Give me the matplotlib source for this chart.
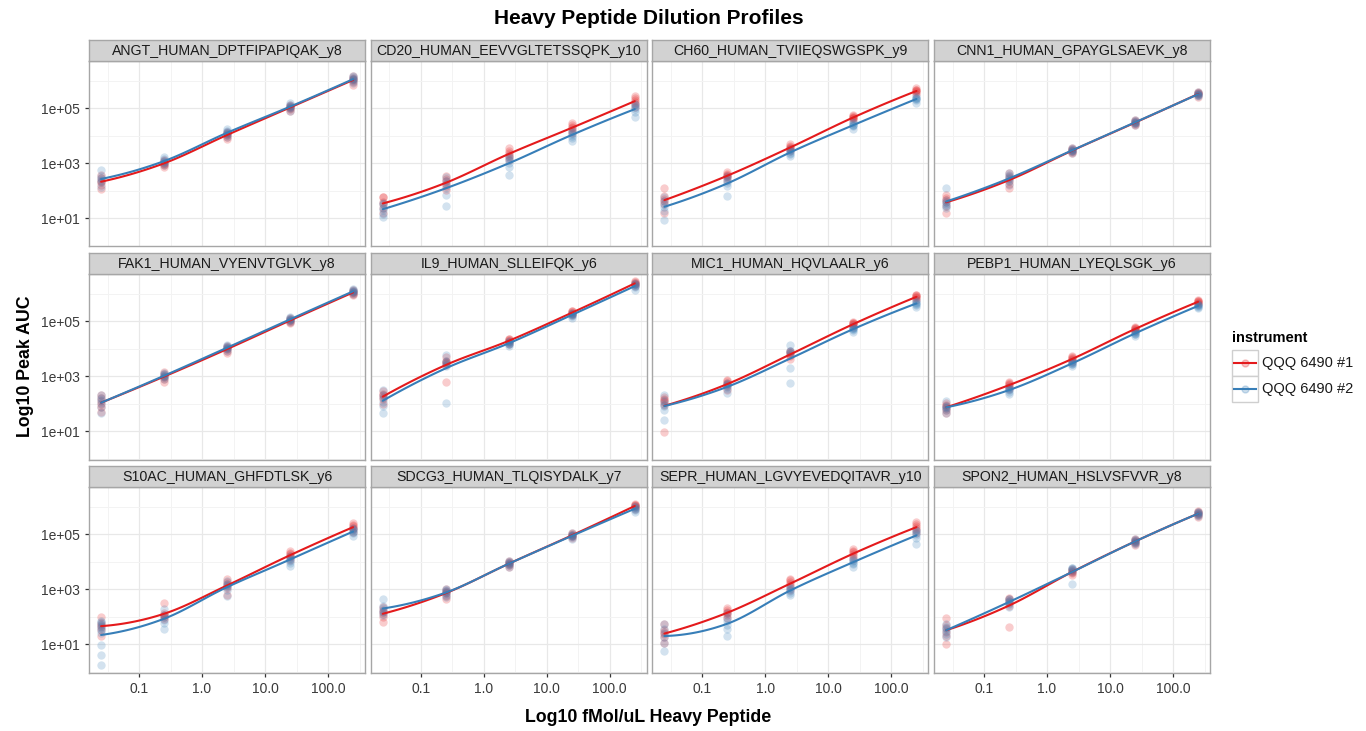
import numpy as np
import matplotlib
matplotlib.use("Agg")
import matplotlib.pyplot as plt
from matplotlib.patches import Rectangle
from matplotlib.lines import Line2D

plt.rcParams['font.family'] = ['Liberation Sans', 'DejaVu Sans']

# ---------------- data ----------------
concentration = [0.025, 0.25, 2.5, 25, 250]          # fMol/uL heavy peptide
instruments = ["QQQ 6490 #1", "QQQ 6490 #2"]
colors = ["#E41A1C", "#377EB8"]

panel_titles = [
    "ANGT_HUMAN_DPTFIPAPIQAK_y8", "CD20_HUMAN_EEVVGLTETSSQPK_y10",
    "CH60_HUMAN_TVIIEQSWGSPK_y9", "CNN1_HUMAN_GPAYGLSAEVK_y8",
    "FAK1_HUMAN_VYENVTGLVK_y8", "IL9_HUMAN_SLLEIFQK_y6",
    "MIC1_HUMAN_HQVLAALR_y6", "PEBP1_HUMAN_LYEQLSGK_y6",
    "S10AC_HUMAN_GHFDTLSK_y6", "SDCG3_HUMAN_TLQISYDALK_y7",
    "SEPR_HUMAN_LGVYEVEDQITAVR_y10", "SPON2_HUMAN_HSLVSFVVR_y8",
]

# log10(Peak AUC) replicates, one inner list per concentration
ANGT_1 = [[2.05, 2.20, 2.30, 2.36, 2.44, 2.57], [2.85, 2.93, 2.98, 3.01, 3.06, 3.11],
          [3.88, 3.96, 4.01, 4.05, 4.08, 4.14], [4.90, 4.97, 5.01, 5.04, 5.08, 5.12],
          [5.84, 5.95, 6.01, 6.05, 6.10, 6.17]]
ANGT_2 = [[2.12, 2.30, 2.38, 2.45, 2.52, 2.75], [2.93, 3.00, 3.05, 3.09, 3.14, 3.21],
          [3.96, 4.03, 4.08, 4.12, 4.17, 4.24], [4.90, 4.99, 5.04, 5.08, 5.12, 5.17],
          [5.92, 5.99, 6.04, 6.07, 6.11, 6.17]]
CD20_1 = [[1.20, 1.38, 1.50, 1.58, 1.76, 1.76], [2.02, 2.15, 2.25, 2.33, 2.41, 2.52],
          [3.10, 3.22, 3.30, 3.38, 3.45, 3.53], [4.08, 4.18, 4.26, 4.32, 4.38, 4.46],
          [5.02, 5.14, 5.22, 5.30, 5.37, 5.45]]
CD20_2 = [[1.05, 1.15, 1.28, 1.38, 1.50, 1.56], [1.45, 1.85, 2.10, 2.25, 2.35, 2.48],
          [2.55, 2.85, 3.00, 3.10, 3.18, 3.26], [3.80, 3.92, 4.00, 4.07, 4.14, 4.19],
          [4.68, 4.85, 4.95, 5.02, 5.10, 5.16]]
CH60_1 = [[1.19, 1.50, 1.62, 1.70, 1.79, 2.10], [2.40, 2.48, 2.52, 2.56, 2.60, 2.68],
          [3.45, 3.52, 3.56, 3.59, 3.62, 3.68], [4.55, 4.62, 4.65, 4.68, 4.71, 4.75],
          [5.50, 5.58, 5.61, 5.64, 5.67, 5.72]]
CH60_2 = [[0.92, 1.25, 1.40, 1.52, 1.62, 1.75], [1.80, 2.15, 2.28, 2.36, 2.45, 2.52],
          [3.25, 3.33, 3.38, 3.42, 3.46, 3.50], [4.25, 4.33, 4.37, 4.40, 4.44, 4.49],
          [5.20, 5.28, 5.32, 5.35, 5.38, 5.45]]
CNN1_1 = [[1.19, 1.45, 1.58, 1.65, 1.72, 1.83], [2.08, 2.25, 2.36, 2.44, 2.52, 2.63],
          [3.35, 3.41, 3.44, 3.47, 3.50, 3.53], [4.37, 4.43, 4.46, 4.49, 4.52, 4.55],
          [5.41, 5.47, 5.50, 5.53, 5.56, 5.59]]
CNN1_2 = [[1.35, 1.45, 1.50, 1.58, 1.64, 2.08], [2.20, 2.35, 2.43, 2.49, 2.55, 2.62],
          [3.37, 3.42, 3.45, 3.48, 3.51, 3.53], [4.39, 4.44, 4.47, 4.50, 4.53, 4.55],
          [5.42, 5.46, 5.49, 5.52, 5.54, 5.57]]
FAK1_1 = [[1.70, 1.88, 2.00, 2.10, 2.20, 2.30], [2.80, 2.90, 2.96, 3.01, 3.06, 3.15],
          [3.82, 3.92, 3.97, 4.01, 4.06, 4.10], [4.92, 4.98, 5.01, 5.04, 5.07, 5.10],
          [5.93, 6.00, 6.03, 6.06, 6.09, 6.13]]
FAK1_2 = [[1.64, 1.88, 2.02, 2.12, 2.20, 2.32], [2.88, 2.95, 3.00, 3.04, 3.08, 3.11],
          [3.92, 3.98, 4.02, 4.05, 4.09, 4.12], [4.96, 5.02, 5.05, 5.08, 5.11, 5.14],
          [5.98, 6.04, 6.07, 6.10, 6.13, 6.16]]
IL9_1 = [[2.00, 2.15, 2.24, 2.30, 2.36, 2.45], [2.77, 3.40, 3.48, 3.52, 3.55, 3.68],
         [4.18, 4.24, 4.27, 4.30, 4.33, 4.36], [5.21, 5.26, 5.29, 5.32, 5.35, 5.37],
         [6.28, 6.33, 6.36, 6.39, 6.42, 6.44]]
IL9_2 = [[1.65, 1.90, 2.05, 2.20, 2.30, 2.50], [2.03, 3.38, 3.45, 3.50, 3.55, 3.77],
         [4.08, 4.15, 4.18, 4.21, 4.24, 4.28], [5.12, 5.18, 5.21, 5.24, 5.27, 5.30],
         [6.12, 6.22, 6.27, 6.30, 6.34, 6.37]]
MIC1_1 = [[0.95, 1.95, 2.05, 2.12, 2.18, 2.25], [2.50, 2.62, 2.70, 2.76, 2.82, 2.86],
          [3.62, 3.72, 3.78, 3.83, 3.88, 3.91], [4.78, 4.85, 4.89, 4.92, 4.94, 4.96],
          [5.76, 5.84, 5.88, 5.91, 5.94, 5.95]]
MIC1_2 = [[1.40, 1.75, 1.90, 2.00, 2.10, 2.31], [2.40, 2.52, 2.60, 2.66, 2.72, 2.76],
          [2.76, 3.28, 3.85, 3.90, 3.92, 4.13], [4.60, 4.66, 4.70, 4.73, 4.76, 4.81],
          [5.52, 5.59, 5.63, 5.66, 5.69, 5.75]]
PEBP1_1 = [[1.64, 1.78, 1.85, 1.90, 1.96, 2.03], [2.52, 2.60, 2.66, 2.70, 2.74, 2.80],
           [3.50, 3.57, 3.61, 3.65, 3.68, 3.71], [4.62, 4.67, 4.70, 4.73, 4.76, 4.78],
           [5.62, 5.67, 5.70, 5.72, 5.74, 5.75]]
PEBP1_2 = [[1.66, 1.78, 1.84, 1.88, 1.92, 2.08], [2.36, 2.43, 2.48, 2.52, 2.55, 2.60],
           [3.36, 3.42, 3.45, 3.48, 3.51, 3.54], [4.45, 4.51, 4.54, 4.57, 4.60, 4.63],
           [5.46, 5.51, 5.54, 5.57, 5.60, 5.62]]
S10AC_1 = [[1.30, 1.52, 1.62, 1.70, 1.78, 1.98], [1.90, 1.98, 2.05, 2.06, 2.12, 2.49],
           [2.80, 3.02, 3.12, 3.20, 3.26, 3.38], [4.05, 4.15, 4.21, 4.27, 4.32, 4.38],
           [5.08, 5.17, 5.23, 5.28, 5.33, 5.41]]
S10AC_2 = [[0.25, 0.59, 0.95, 1.40, 1.50, 1.58, 1.65, 1.72, 1.80, 1.85],
           [1.56, 1.75, 1.88, 1.98, 2.06, 2.29],
           [2.73, 2.98, 3.07, 3.14, 3.20, 3.30], [3.85, 3.96, 4.02, 4.08, 4.13, 4.20],
           [4.92, 5.03, 5.09, 5.14, 5.19, 5.23]]
SDCG3_1 = [[1.80, 1.98, 2.08, 2.16, 2.22, 2.36], [2.65, 2.76, 2.84, 2.90, 2.94, 3.01],
           [3.80, 3.87, 3.91, 3.95, 3.98, 4.01], [4.84, 4.91, 4.94, 4.97, 5.00, 5.04],
           [5.92, 5.98, 6.01, 6.04, 6.07, 6.10]]
SDCG3_2 = [[2.05, 2.15, 2.20, 2.30, 2.39, 2.65], [2.70, 2.80, 2.86, 2.91, 2.96, 2.99],
           [3.80, 3.87, 3.91, 3.95, 3.98, 4.01], [4.82, 4.89, 4.92, 4.95, 4.98, 5.02],
           [5.80, 5.87, 5.91, 5.95, 5.98, 6.01]]
SEPR_1 = [[1.05, 1.25, 1.35, 1.42, 1.50, 1.71], [1.95, 2.05, 2.12, 2.18, 2.24, 2.30],
          [2.95, 3.10, 3.18, 3.26, 3.33, 3.38], [4.10, 4.20, 4.27, 4.33, 4.39, 4.45],
          [5.02, 5.15, 5.22, 5.30, 5.36, 5.45]]
SEPR_2 = [[0.75, 1.05, 1.25, 1.40, 1.55, 1.74], [1.28, 1.55, 1.70, 1.82, 1.95, 2.14],
          [2.78, 2.87, 2.93, 2.99, 3.04, 3.09], [3.80, 3.90, 3.96, 4.02, 4.07, 4.13],
          [4.62, 4.85, 4.95, 5.02, 5.10, 5.16]]
SPON2_1 = [[1.00, 1.30, 1.45, 1.60, 1.70, 1.95], [1.62, 2.40, 2.50, 2.58, 2.62, 2.68],
           [3.50, 3.57, 3.61, 3.65, 3.68, 3.71], [4.60, 4.67, 4.72, 4.76, 4.80, 4.83],
           [5.62, 5.68, 5.73, 5.77, 5.80, 5.84]]
SPON2_2 = [[1.25, 1.38, 1.48, 1.56, 1.62, 1.71], [2.35, 2.45, 2.52, 2.58, 2.63, 2.65],
           [3.20, 3.62, 3.68, 3.72, 3.75, 3.75], [4.62, 4.68, 4.72, 4.76, 4.79, 4.81],
           [5.64, 5.70, 5.74, 5.77, 5.79, 5.80]]

panel_data = [
    (ANGT_1, ANGT_2), (CD20_1, CD20_2), (CH60_1, CH60_2), (CNN1_1, CNN1_2),
    (FAK1_1, FAK1_2), (IL9_1, IL9_2), (MIC1_1, MIC1_2), (PEBP1_1, PEBP1_2),
    (S10AC_1, S10AC_2), (SDCG3_1, SDCG3_2), (SEPR_1, SEPR_2), (SPON2_1, SPON2_2),
]


# ---------------- loess smoother (geom_smooth-like, log-log space) ----------------
def local_fit(x, y, x0, span=0.75):
    n = len(x)
    q = int(np.floor(n * span))
    d = np.abs(x - x0)
    h = np.sort(d)[q - 1] * 1.0001
    w = np.clip(1 - (d / h) ** 3, 0, None) ** 3
    X = np.column_stack([np.ones(n), x - x0, (x - x0) ** 2])
    sw = np.sqrt(w)
    beta = np.linalg.lstsq(X * sw[:, None], y * sw, rcond=None)[0]
    return beta[0], beta[1]


def loess_curve(x, y, npts=120, span=0.75):
    """Local quadratic fits at the vertices (distinct x), joined by cubic
    Hermite interpolation, like R's loess(surface = 'interpolate')."""
    x = np.asarray(x, float)
    y = np.asarray(y, float)
    vx = np.unique(x)
    fits = [local_fit(x, y, v, span) for v in vx]
    vy = np.array([f[0] for f in fits])
    vd = np.array([f[1] for f in fits])
    xe = np.linspace(vx[0], vx[-1], npts)
    ye = np.empty_like(xe)
    for k, xx in enumerate(xe):
        j = min(np.searchsorted(vx, xx, side='right') - 1, len(vx) - 2)
        j = max(j, 0)
        hseg = vx[j + 1] - vx[j]
        t = (xx - vx[j]) / hseg
        h00 = 2 * t ** 3 - 3 * t ** 2 + 1
        h10 = t ** 3 - 2 * t ** 2 + t
        h01 = -2 * t ** 3 + 3 * t ** 2
        h11 = t ** 3 - t ** 2
        ye[k] = h00 * vy[j] + h10 * hseg * vd[j] + h01 * vy[j + 1] + h11 * hseg * vd[j + 1]
    return xe, ye


# ---------------- layout ----------------
W, H = 1366, 731
fig = plt.figure(figsize=(W / 100, H / 100), dpi=100)


def fbox(x0, y0, x1, y1):
    return [x0 / W, 1 - y1 / H, (x1 - x0) / W, (y1 - y0) / H]


BORDER = "#A6A6A6"
xlim = (10 ** -1.794, 10 ** 2.587)
ylim = (10 ** -0.036, 10 ** 6.71)

for i, title in enumerate(panel_titles):
    r, c = divmod(i, 4)
    left = 89 + 281.67 * c
    right = left + 276
    strip_top = 39.5 + 213 * r
    top = 61 + 213 * r
    bottom = 246.5 + 213 * r

    ax = fig.add_axes(fbox(left, top, right, bottom))
    ax.set_xscale('log')
    ax.set_yscale('log')
    ax.set_xlim(*xlim)
    ax.set_ylim(*ylim)
    ax.set_facecolor("white")

    ax.set_xticks([0.1, 1, 10, 100])
    ax.set_xticklabels(["0.1", "1.0", "10.0", "100.0"])
    ax.set_xticks([10 ** -1.5, 10 ** -0.5, 10 ** 0.5, 10 ** 1.5, 10 ** 2.5], minor=True)
    ax.set_yticks([1e1, 1e3, 1e5])
    ax.set_yticklabels(["1e+01", "1e+03", "1e+05"])
    ax.set_yticks([1e0, 1e2, 1e4, 1e6], minor=True)
    ax.grid(True, which='major', color="#E8E8E8", lw=0.9, zorder=0)
    ax.grid(True, which='minor', color="#F3F3F3", lw=0.7, zorder=0)
    ax.set_axisbelow(True)
    ax.tick_params(which='minor', length=0, labelbottom=False, labelleft=False)
    ax.tick_params(which='major', length=3.2, width=0.9, color="#333333",
                   labelsize=10, labelcolor="#3A3A3A", pad=3.5)
    if r != 2:
        ax.tick_params(axis='x', which='major', length=0, labelbottom=False)
    if c != 0:
        ax.tick_params(axis='y', which='major', length=0, labelleft=False)
    for sp in ax.spines.values():
        sp.set_color(BORDER)
        sp.set_linewidth(1.0)

    groups = panel_data[i]
    # points
    for g, reps in enumerate(groups):
        xs, ys = [], []
        for conc, vals in zip(concentration, reps):
            xs += [conc] * len(vals)
            ys += vals
        ax.scatter(xs, 10 ** np.array(ys), s=36, color=colors[g], alpha=0.22,
                   linewidths=0, zorder=3)
    # smooth lines
    for g, reps in enumerate(groups):
        lx, ly = [], []
        for conc, vals in zip(concentration, reps):
            lx += [np.log10(conc)] * len(vals)
            ly += vals
        xe, ye = loess_curve(lx, ly)
        ax.plot(10 ** xe, 10 ** ye, color=colors[g], lw=1.5, zorder=4,
                solid_capstyle='round')

    # strip
    sax = fig.add_axes(fbox(left, strip_top, right, top))
    sax.set_facecolor("#D2D2D2")
    sax.set_xticks([])
    sax.set_yticks([])
    for sp in sax.spines.values():
        sp.set_color(BORDER)
        sp.set_linewidth(1.0)
    sax.text(0.5, 0.47, title, ha='center', va='center', fontsize=10.2,
             color="#1A1A1A", transform=sax.transAxes)

# titles
fig.text(648.5 / W, 1 - 18 / H, "Heavy Peptide Dilution Profiles", ha='center',
         va='center', fontsize=15, fontweight='bold')
fig.text(648.5 / W, 1 - 718 / H, "Log10 fMol/uL Heavy Peptide", ha='center',
         va='center', fontsize=12.8, fontweight='bold')
fig.text(25 / W, 1 - 366.5 / H, "Log10 Peak AUC", ha='center', va='center',
         rotation=90, fontsize=12.8, fontweight='bold')

# legend
fig.text(1232 / W, 1 - 338 / H, "instrument", ha='left', va='center',
         fontsize=10.5, fontweight='bold')
for g, lab in enumerate(instruments):
    y0 = 350 + 26 * g
    fig.add_artist(Rectangle((1232 / W, 1 - (y0 + 26) / H), 26 / W, 26 / H,
                             transform=fig.transFigure, facecolor="white",
                             edgecolor="#CFCFCF", lw=1.0))
    yc = 1 - (y0 + 13) / H
    fig.add_artist(Line2D([1234 / W, 1256 / W], [yc, yc], color=colors[g], lw=1.5,
                          transform=fig.transFigure))
    fig.add_artist(Line2D([1245 / W], [yc], marker='o', markersize=5,
                          color=colors[g], alpha=0.25, lw=0, transform=fig.transFigure))
    fig.text(1262 / W, yc, lab, ha='left', va='center', fontsize=10.5, color="#1A1A1A")

fig.savefig("out.png", dpi=100)
